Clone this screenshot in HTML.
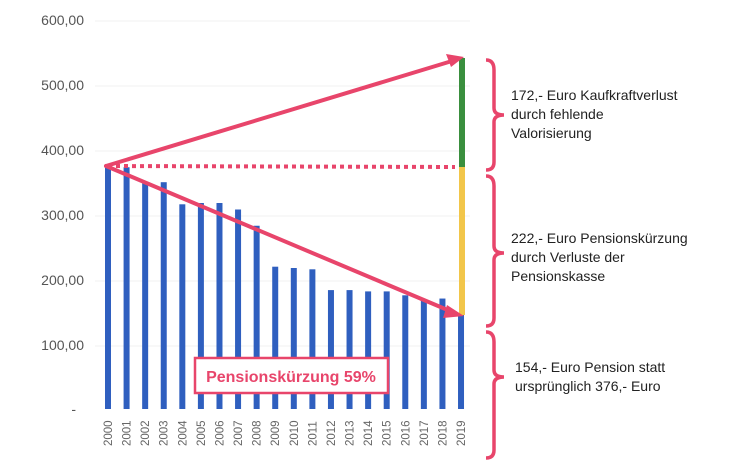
<!DOCTYPE html>
<html><head><meta charset="utf-8"><style>
body{margin:0;background:#fff;}
svg text{font-family:"Liberation Sans",sans-serif;}
</style></head><body>
<svg width="740" height="468" viewBox="0 0 740 468" xmlns="http://www.w3.org/2000/svg">
<g stroke="#f0f0f0" stroke-width="1">
<line x1="95" x2="470" y1="21" y2="21"/><line x1="95" x2="470" y1="86" y2="86"/><line x1="95" x2="470" y1="151" y2="151"/><line x1="95" x2="470" y1="216" y2="216"/><line x1="95" x2="470" y1="281" y2="281"/><line x1="95" x2="470" y1="346" y2="346"/>
</g>
<g font-size="14" fill="#555" text-anchor="end">
<text x="84" y="25">600,00</text><text x="84" y="90">500,00</text><text x="84" y="155">400,00</text><text x="84" y="220">300,00</text><text x="84" y="285">200,00</text><text x="84" y="350">100,00</text><text x="76" y="414">-</text>
</g>
<g fill="#2f5fbf" id="bars"></g>
<g font-size="11.5" fill="#666" id="yrs"></g>
<rect x="459" y="58" width="6" height="109" fill="#3a8f3e"/>
<rect x="459" y="167" width="6" height="148" fill="#f2c64a"/>
<line x1="108" y1="166" x2="455" y2="167" stroke="#e8456b" stroke-width="4" stroke-dasharray="4,4"/>
<g stroke="#e8456b" stroke-width="4" fill="none" stroke-linecap="round">
<line x1="106" y1="166" x2="452" y2="61"/>
<line x1="106" y1="166" x2="450" y2="311"/>
</g>
<polygon points="464,57 446,54 451,67" fill="#e8456b"/>
<polygon points="464,316 447,305 443,318" fill="#e8456b"/>
<g stroke="#e8456b" stroke-width="3.5" fill="none">
<path d="M486,60 Q494,60 494,70 L494,108 Q494,115 504,115 Q494,115 494,122 L494,162 Q494,170 486,170"/>
<path d="M486,176 Q494,176 494,186 L494,246 Q494,253 504,253 Q494,253 494,260 L494,318 Q494,326 486,326"/>
<path d="M486,332 Q494,332 494,342 L494,370 Q494,377 504,377 Q494,377 494,384 L494,450 Q494,458 486,458"/>
</g>
<g font-size="14" fill="#222">
<text x="511" y="100">172,- Euro Kaufkraftverlust</text>
<text x="511" y="119">durch fehlende</text>
<text x="511" y="138">Valorisierung</text>
<text x="511" y="243">222,- Euro Pensionskürzung</text>
<text x="511" y="262">durch Verluste der</text>
<text x="511" y="281">Pensionskasse</text>
<text x="515" y="372">154,- Euro Pension statt</text>
<text x="515" y="391">ursprünglich 376,- Euro</text>
</g>
<rect x="195" y="358" width="193" height="35" fill="#fff" stroke="#e8456b" stroke-width="2.5"/>
<text x="291" y="382" font-size="16" font-weight="bold" fill="#e8456b" text-anchor="middle">Pensionskürzung 59%</text>
<script>
var v=[376,375,350,352,318,320,320,310,285,222,220,218,186,186,184,184,178,170,173,148];
var b=document.getElementById('bars'),y=document.getElementById('yrs'),ns='http://www.w3.org/2000/svg';
for(var i=0;i<20;i++){var cx=108+i*18.58;
if(i<19){var r=document.createElementNS(ns,'rect');r.setAttribute('x',cx-3);r.setAttribute('width',6);r.setAttribute('y',411-v[i]*0.65);r.setAttribute('height',v[i]*0.65-2);b.appendChild(r);}
else{var r=document.createElementNS(ns,'rect');r.setAttribute('x',cx-3);r.setAttribute('width',6);r.setAttribute('y',315);r.setAttribute('height',94);b.appendChild(r);}
var t=document.createElementNS(ns,'text');t.setAttribute('transform','translate('+(cx+4)+',446) rotate(-90)');t.textContent=2000+i;y.appendChild(t);}
</script>
</svg>
</body></html>
